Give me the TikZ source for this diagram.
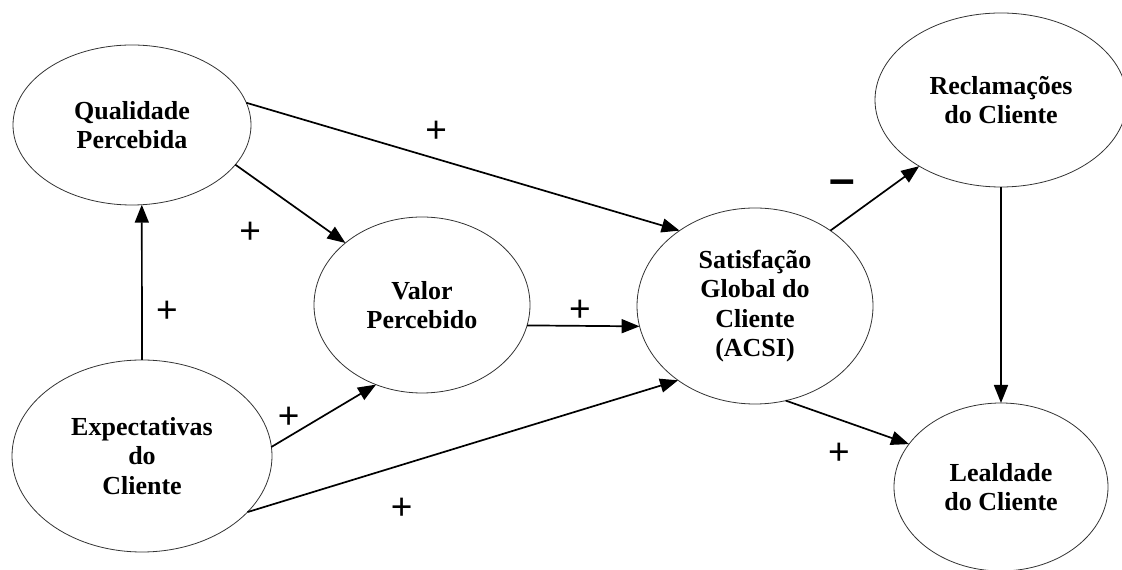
\documentclass[tikz,border=0pt]{standalone}
\usepackage{fontspec}
\setmainfont{Liberation Serif}
\newfontfamily\plusfont{Liberation Sans}
\usetikzlibrary{shapes.geometric, arrows.meta}

\begin{document}
\begin{tikzpicture}[x=1pt, y=1pt,
	construct/.style={ellipse, draw=black!80, line width=0.8pt, inner sep=0pt, outer sep=0pt, align=center, font=\bfseries\fontsize{26}{29.5}\selectfont},
	sign/.style={inner sep=0pt, font=\plusfont\fontsize{37}{37}\selectfont},
	arr/.style={line width=1.7pt, -{Triangle[length=18pt,width=14pt]}}]
		\useasboundingbox (0,0) rectangle (1122,570);
		\node[construct, minimum width=238, minimum height=160] (qual) at (132,445) {Qualidade\\Percebida};
		\node[construct, minimum width=260, minimum height=192] (exp) at (142,114) {Expectativas\\do\\Cliente};
		\node[construct, minimum width=216, minimum height=176] (valor) at (422,265) {Valor\\Percebido};
		\node[construct, minimum width=236, minimum height=196] (satis) at (755,264) {Satisfação\\Global do\\Cliente\\(ACSI)};
		\node[construct, minimum width=252, minimum height=174] (recl) at (1001,470) {Reclamações\\do Cliente};
		\node[construct, minimum width=214, minimum height=168] (leal) at (1001,83) {Lealdade\\do Cliente};
		
		\path[arr]
		(exp.90) edge node [sign, pos=.31, xshift=25] {+} (qual.277)
		(qual.339) edge node [sign, pos=.39, xshift=-28, yshift=-38] {+} (valor.141)
		(qual.11.5) edge node [sign, pos=.42, xshift=8, yshift=25] {+} (satis.135.4)
		(exp.4) edge node [sign, pos=.25, xshift=-9, yshift=14] {+} (valor.240)
		(exp.332.6) edge node [sign, pos=.33, xshift=12, yshift=-40] {+} (satis.224.6)
		(valor.-11.3) edge node [sign, pos=.47, yshift=15] {+} (satis.190)
		(satis.45) edge node [sign, pos=.31, xshift=-16, yshift=23, font=\plusfont\bfseries\fontsize{46}{46}\selectfont] {–} (recl.219)
		(recl.270) edge (leal.90)
		(satis.288.8) edge node [sign, pos=.52, xshift=-11, yshift=-31] {+} (leal.155);
	\end{tikzpicture}
\end{document}
